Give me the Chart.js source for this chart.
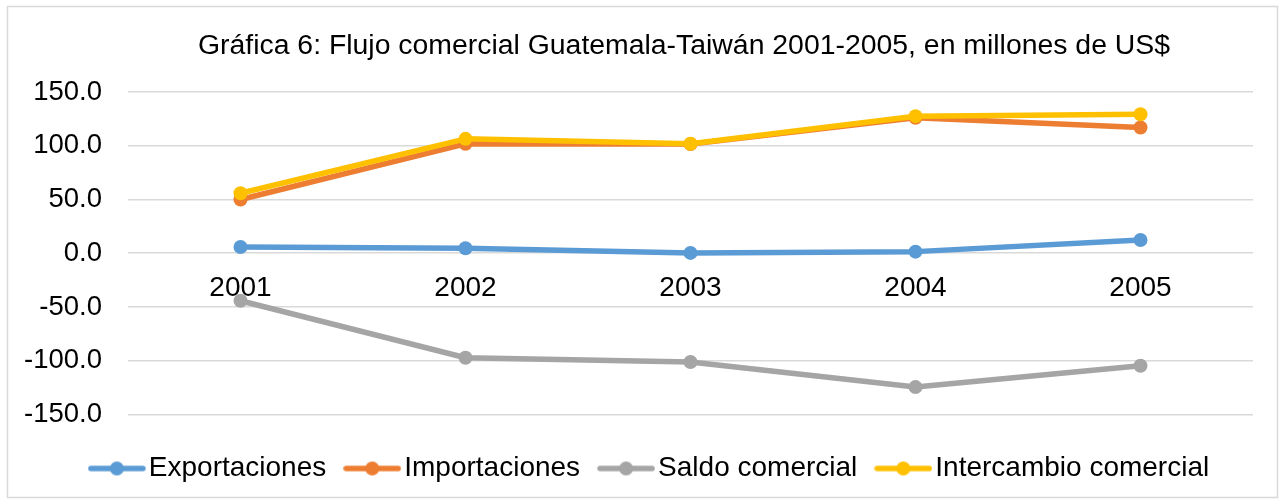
<!DOCTYPE html>
<html>
<head>
<meta charset="utf-8">
<script src="https://cdn.jsdelivr.net/npm/chart.js@4/dist/chart.umd.min.js"></script>
<style>
html,body{margin:0;padding:0;background:#fff;}
#c{display:block;}
</style>
</head>
<body>
<canvas id="c" width="1284" height="502"></canvas>
<script>
const categories = ['2001', '2002', '2003', '2004', '2005'];
const exportaciones = [5.8, 4.6, 0.3, 1.5, 12.3];
const importaciones = [50.0, 101.8, 101.5, 126.0, 117.0];
const saldoComercial = [-44.2, -97.2, -101.2, -124.5, -104.7];
const intercambioComercial = [55.8, 106.4, 101.8, 127.5, 129.3];
const yTicks = [-150, -100, -50, 0, 50, 100, 150];
const titleText = 'Gráfica 6: Flujo comercial Guatemala-Taiwán 2001-2005, en millones de US$';

const FONT = "'Liberation Sans', Arial, sans-serif";
const TXT = '#000000';

function legendIcon(color) {
  const c = document.createElement('canvas');
  c.width = 58; c.height = 16;
  const x = c.getContext('2d');
  x.strokeStyle = color; x.lineWidth = 5.5; x.lineCap = 'round';
  x.beginPath(); x.moveTo(3, 8); x.lineTo(55, 8); x.stroke();
  x.fillStyle = color;
  x.beginPath(); x.arc(29, 8, 7, 0, Math.PI * 2); x.fill();
  return c;
}

function ds(label, data, color, order) {
  return {
    label, data, order,
    borderColor: color, backgroundColor: color,
    pointBackgroundColor: color, pointBorderColor: color,
    borderWidth: 5.5, pointRadius: 7, pointBorderWidth: 0, pointHoverRadius: 7,
    borderCapStyle: 'round', borderJoinStyle: 'round',
    tension: 0, fill: false,
    icon: legendIcon(color)
  };
}

const borderPlugin = {
  id: 'outerBorder',
  beforeDraw(chart) {
    const ctx = chart.ctx;
    ctx.save();
    ctx.fillStyle = '#fff';
    ctx.fillRect(0, 0, chart.width, chart.height);
    ctx.strokeStyle = '#d9d9d9';
    ctx.lineWidth = 1.5;
    ctx.strokeRect(7.5, 6.5, 1270, 491);
    ctx.restore();
  }
};

const shiftPlugin = {
  id: 'shiftBlocks',
  afterLayout(chart) {
    if (chart.legend) { chart.legend.left += 15; chart.legend.right += 15; }
    if (chart.titleBlock) { chart.titleBlock.left -= 6.5; chart.titleBlock.right -= 6.5; }
  }
};

new Chart(document.getElementById('c'), {
  type: 'line',
  data: {
    labels: categories,
    datasets: [
      ds('Exportaciones', exportaciones, '#5B9BD5', 3),
      ds('Importaciones', importaciones, '#ED7D31', 2),
      ds('Saldo comercial', saldoComercial, '#A5A5A5', 1),
      ds('Intercambio comercial', intercambioComercial, '#FFC000', 0)
    ]
  },
  plugins: [borderPlugin, shiftPlugin],
  options: {
    responsive: false,
    devicePixelRatio: 1,
    animation: false,
    layout: { padding: { left: 25, right: 31, top: 10, bottom: 9.5 } },
    scales: {
      x: {
        type: 'category',
        position: { y: 0 },
        offset: true,
        grid: { display: false, drawTicks: false },
        border: { display: false },
        ticks: { color: TXT, font: { family: FONT, size: 28 }, padding: 18, maxRotation: 0 }
      },
      y: {
        min: -150, max: 150,
        afterBuildTicks(scale) { scale.ticks = yTicks.map(v => ({ value: v })); },
        afterFit(scale) { scale.width = 128 - 25; },
        grid: { color: '#d9d9d9', lineWidth: 1.5, drawTicks: false },
        border: { display: false },
        ticks: {
          color: TXT, font: { family: FONT, size: 27.5 }, padding: 26,
          callback: v => Number(v).toFixed(1)
        }
      }
    },
    plugins: {
      title: {
        display: true, text: titleText, color: TXT, fullSize: false,
        font: { family: FONT, size: 28.4, weight: 'normal' },
        padding: { top: 19, bottom: 28.9 }
      },
      legend: {
        position: 'bottom',
        title: { display: true, text: ' ', font: { size: 10 }, padding: 0 },
        labels: {
          usePointStyle: true,
          pointStyleWidth: 36,
          padding: 28,
          color: TXT,
          font: { family: FONT, size: 28 },
          sort: (a, b) => a.datasetIndex - b.datasetIndex,
          generateLabels(chart) {
            const items = Chart.defaults.plugins.legend.labels.generateLabels(chart);
            items.forEach(it => { it.pointStyle = chart.data.datasets[it.datasetIndex].icon; });
            return items;
          }
        }
      },
      tooltip: { enabled: false }
    }
  }
});
</script>
</body>
</html>
